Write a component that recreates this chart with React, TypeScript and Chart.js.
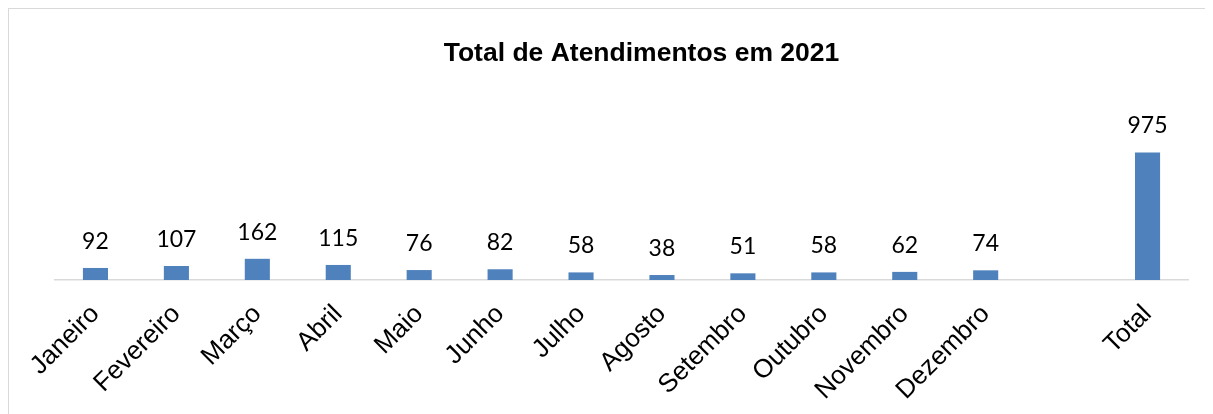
import React, { useEffect, useRef } from "react";
import { Chart, registerables } from "chart.js";

Chart.register(...registerables);

const TITLE = "Total de Atendimentos em 2021";
const CATEGORIES = [
  "Janeiro",
  "Fevereiro",
  "Março",
  "Abril",
  "Maio",
  "Junho",
  "Julho",
  "Agosto",
  "Setembro",
  "Outubro",
  "Novembro",
  "Dezembro",
  "",
  "Total",
];
const VALUES: (number | null)[] = [92, 107, 162, 115, 76, 82, 58, 38, 51, 58, 62, 74, null, 975];
const Y_MAX = 1200;

const BAR_COLOR = "#4f81bd";

const valueLabels = {
  id: "valueLabels",
  afterDatasetsDraw(chart: any) {
    const ctx = chart.ctx;
    const meta = chart.getDatasetMeta(0);
    ctx.save();
    ctx.font = "23px Lato";
    ctx.fillStyle = "#000000";
    ctx.textAlign = "center";
    ctx.textBaseline = "alphabetic";
    meta.data.forEach((el: any, i: number) => {
      const v = VALUES[i];
      if (v == null) return;
      ctx.fillText(String(v), el.x, el.y - 19);
    });
    ctx.restore();
  },
};

const titlePlugin = {
  id: "customTitle",
  afterDraw(chart: any) {
    const ctx = chart.ctx;
    ctx.save();
    ctx.font = "bold 26.5px 'Liberation Sans', Arial, sans-serif";
    ctx.fillStyle = "#000000";
    ctx.textAlign = "center";
    ctx.textBaseline = "alphabetic";
    ctx.fillText(TITLE, 632.5, 51.7);
    ctx.restore();
  },
};

export default function App() {
  const canvasRef = useRef<HTMLCanvasElement | null>(null);

  useEffect(() => {
    if (!canvasRef.current) return;
    const chart = new Chart(canvasRef.current, {
      type: "bar",
      data: {
        labels: CATEGORIES,
        datasets: [
          {
            data: VALUES,
            backgroundColor: BAR_COLOR,
            borderWidth: 0,
            categoryPercentage: 1,
            barPercentage: 0.31,
          },
        ],
      },
      options: {
        responsive: false,
        animation: false,
        devicePixelRatio: 1,
        layout: { padding: { left: 46, right: 25, top: 114, bottom: 0 } },
        plugins: {
          legend: { display: false },
          title: { display: false },
          tooltip: { enabled: false },
        },
        scales: {
          x: {
            grid: { display: false },
            border: { display: true, color: "#d9d9d9", width: 1.5 },
            ticks: {
              autoSkip: false,
              minRotation: 45,
              maxRotation: 45,
              padding: 11,
              color: "#000000",
              font: { family: "'Liberation Sans', Arial, sans-serif", size: 26 },
            },
            afterFit: (scale: any) => {
              scale.height = 134;
            },
          },
          y: {
            display: false,
            min: 0,
            max: Y_MAX,
          },
        },
      },
      plugins: [valueLabels, titlePlugin],
    });
    return () => chart.destroy();
  }, []);

  return (
    <div
      style={{
        width: 1205,
        height: 406,
        boxSizing: "border-box",
        borderTop: "1px solid #d9d9d9",
        borderLeft: "1px solid #d9d9d9",
        background: "#ffffff",
        overflow: "hidden",
      }}
    >
      <canvas ref={canvasRef} width={1204} height={405} style={{ display: "block" }} />
    </div>
  );
}
